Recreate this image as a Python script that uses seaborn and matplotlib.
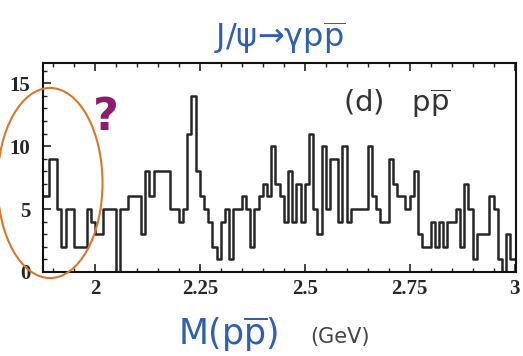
import numpy as np
import pandas as pd
import seaborn as sns
import matplotlib.pyplot as plt
from matplotlib.patches import Ellipse
from matplotlib.ticker import MultipleLocator

# events per 10 MeV bin (first bin starts at 1.87 GeV)
counts = [
    6, 6, 9, 9, 5, 2, 5, 5, 2, 2,
    2, 5, 4, 3, 3, 5, 5, 5, 0, 5,
    5, 6, 6, 6, 3, 8, 6, 8, 8, 8,
    8, 5, 5, 4, 5, 11, 14, 8, 6, 5,
    4, 2, 1, 4, 5, 1, 5, 5, 6, 5,
    2, 5, 6, 7, 6, 10, 7, 6, 4, 8,
    4, 7, 4, 7, 11, 5, 3, 10, 5, 9,
    9, 4, 10, 4, 5, 5, 5, 5, 10, 6,
    5, 4, 4, 9, 7, 6, 6, 5, 6, 8,
    3, 2, 2, 4, 2, 4, 2, 4, 4, 5,
    2, 7, 5, 1, 3, 3, 3, 6, 5, 1,
    0, 3, 1]
x_ticks = [2, 2.25, 2.5, 2.75, 3]
x_ticklabels = ['2', '2.25', '2.5', '2.75', '3']
y_ticks = [0, 5, 10, 15]
y_ticklabels = ['0', '5', '10', '15']

edges = 1.87 + 0.01 * np.arange(len(counts) + 1)
df = pd.DataFrame({'mass': 0.5 * (edges[:-1] + edges[1:]), 'n': counts})

sns.set_style("ticks")
plt.rcParams['font.family'] = ['DejaVu Sans']
plt.rcParams['mathtext.fontset'] = 'dejavusans'

fig = plt.figure(figsize=(5.23, 3.56), dpi=100)
ax = fig.add_axes([0.082, 0.236, 0.905, 0.587])

# bins passed as a plain list (seaborn 0.13 compares bins == "auto")
sns.histplot(data=df, x='mass', weights='n', bins=edges.tolist(), element="step",
             fill=False, color="#262626", linewidth=1.8, ax=ax)
ax.set_xlabel('')
ax.set_ylabel('')
ax.set_xlim(1.876, 3.004)
ax.set_ylim(0, 16.6)

tick_font = dict(fontsize=15, fontweight='bold', family='Liberation Serif')
ax.set_xticks(x_ticks, x_ticklabels, **tick_font)
ax.set_yticks(y_ticks, y_ticklabels, **tick_font)
ax.xaxis.set_minor_locator(MultipleLocator(0.05))
ax.yaxis.set_minor_locator(MultipleLocator(1))
ax.tick_params(which='both', direction='in', top=True, right=False, color='#222')
ax.tick_params(which='major', length=6, width=1.2)
ax.tick_params(which='minor', length=3, width=1)
ax.tick_params(axis='x', pad=5)
ax.tick_params(axis='y', pad=9)
for s in ax.spines.values():
    s.set_linewidth(1.5)
    s.set_color('#111')

blue = '#2f5fb0'
pbar = r'p$\overline{\mathregular{p}}$'
fig.text(0.535, 0.865, 'J/ψ→γ' + pbar, color=blue, fontsize=23, ha='center',
         va='baseline')
fig.text(0.656, 0.685, '(d)   ' + pbar, color='#333333', fontsize=21, ha='left',
         va='baseline')
fig.text(0.203, 0.671, '?', color='#8b1c6e', fontsize=32, fontweight='bold',
         ha='center', va='center')
fig.text(0.34, 0.031, 'M(' + pbar + ')', color=blue, fontsize=25, ha='left',
         va='baseline')
fig.text(0.593, 0.037, '(GeV)', color='#444444', fontsize=15, ha='left',
         va='baseline')

fig.add_artist(Ellipse((0.0956, 0.486), 0.2008, 0.534, transform=fig.transFigure,
                       fill=False, edgecolor='#d9782d', linewidth=1.5, clip_on=False))

fig.savefig('out.png', dpi=100)
